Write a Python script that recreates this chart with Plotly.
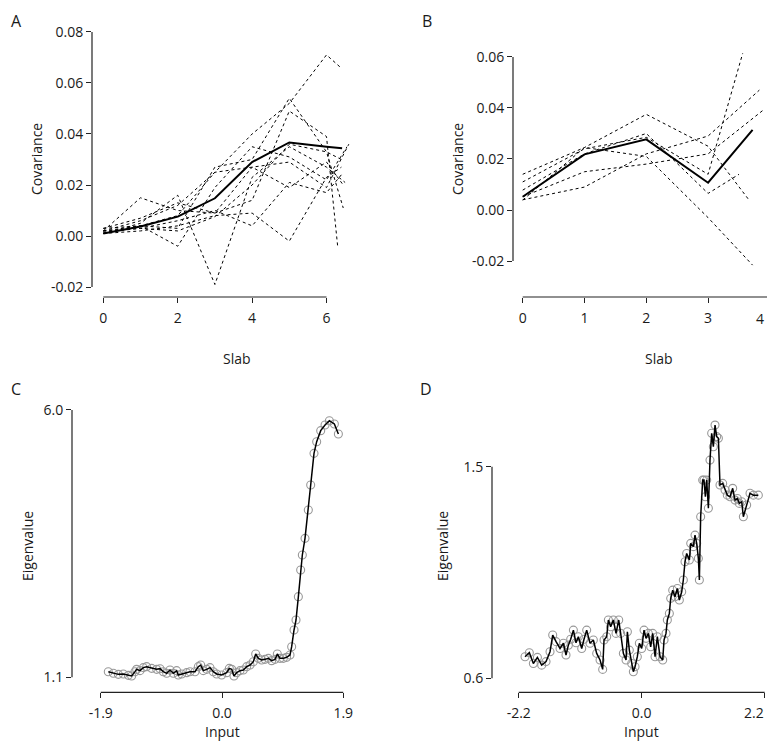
import plotly.graph_objects as go

# browser body margin offset (px) and figure size (kept inside the viewport)
OFF = 8
PAGE_W, PAGE_H = 775, 751
FW, FH = PAGE_W - OFF, PAGE_H - 2 * OFF
VIS_R = 766  # right-most page pixel that stays visible

# ---------------- Panel A data (covariance per slab) ----------------
a_slab = [0, 1, 2, 3, 4, 5, 6]
a_mean = [0.001, 0.0037, 0.0076, 0.0148, 0.029, 0.0367, 0.035]
a_mean_end_x = 6.42
a_mean_end_y = 0.0344
a_runs = [
    [0.002, 0.006, 0.012, 0.025, 0.040, 0.052, 0.071],
    [0.001, 0.004, 0.003, 0.027, 0.030, 0.054, 0.033],
    [0.002, 0.015, 0.010, 0.009, 0.014, 0.049, 0.039],
    [0.003, 0.004, -0.004, 0.019, 0.035, 0.031, 0.022],
    [0.001, 0.005, 0.016, -0.019, 0.023, 0.035, 0.027],
    [0.002, 0.003, 0.006, 0.010, 0.004, 0.021, 0.017],
    [0.003, 0.007, 0.013, 0.009, 0.027, 0.029, 0.019],
    [0.001, 0.002, 0.004, 0.008, 0.009, -0.002, 0.023],
    [0.002, 0.004, 0.008, 0.025, 0.027, 0.019, 0.029],
    [0.0015, 0.003, 0.002, 0.0076, 0.020, 0.036, 0.033],
]
a_run_end_x = [6.40, 6.45, 6.30, 6.55, 6.50, 6.40, 6.60, 6.40, 6.45, 6.40]
a_run_end_y = [0.0658, 0.011, -0.004, 0.035, 0.021, 0.024, 0.036, 0.027, 0.020, 0.030]

# ---------------- Panel B data ----------------
b_slab = [0, 1, 2, 3]
b_mean = [0.0052, 0.0218, 0.0277, 0.0107]
b_mean_end_x = 3.72
b_mean_end_y = 0.0314
b_runs = [
    [0.014, 0.0245, 0.0375, 0.025],
    [0.011, 0.024, 0.0285, 0.014],
    [0.0078, 0.022, 0.030, 0.0065],
    [0.004, 0.009, 0.022, 0.029],
    [0.0052, 0.015, 0.018, 0.022],
    [0.0039, 0.0245, 0.021, -0.003],
]
b_run_end_x = [3.66, 3.56, 3.50, 3.83, 3.91, 3.72]
b_run_end_y = [0.004, 0.0614, 0.014, 0.047, 0.0395, -0.0216]

# ---------------- Panel C data (eigenvalue vs input) ----------------
c_input = [-1.782, -1.703, -1.625, -1.547, -1.468, -1.416, -1.364, -1.338, -1.285, -1.233,
           -1.181, -1.103, -1.024, -0.972, -0.920, -0.867, -0.815, -0.763, -0.711, -0.685,
           -0.632, -0.554, -0.502, -0.423, -0.371, -0.334, -0.293, -0.240, -0.188, -0.136,
           -0.084, -0.005, 0.073, 0.115, 0.152, 0.188, 0.230, 0.282, 0.334, 0.387,
           0.439, 0.491, 0.528, 0.570, 0.622, 0.674, 0.726, 0.778, 0.831, 0.867,
           0.909, 0.961, 1.013, 1.066, 1.092, 1.129, 1.160, 1.197, 1.233, 1.259,
           1.301, 1.353, 1.390, 1.442, 1.484, 1.547, 1.615, 1.683, 1.761, 1.824]
c_eigen = [1.203, 1.173, 1.154, 1.161, 1.136, 1.124, 1.203, 1.246, 1.222, 1.277,
           1.295, 1.264, 1.246, 1.258, 1.203, 1.173, 1.234, 1.173, 1.222, 1.142,
           1.161, 1.185, 1.203, 1.203, 1.295, 1.325, 1.222, 1.246, 1.277, 1.203,
           1.161, 1.142, 1.185, 1.264, 1.246, 1.124, 1.185, 1.222, 1.234, 1.295,
           1.325, 1.386, 1.527, 1.447, 1.417, 1.429, 1.447, 1.405, 1.429, 1.527,
           1.447, 1.447, 1.466, 1.509, 1.661, 1.967, 2.150, 2.578, 3.067, 3.342,
           3.647, 4.167, 4.625, 5.205, 5.419, 5.621, 5.725, 5.804, 5.743, 5.560]

# ---------------- Panel D data ----------------
d_input = [-2.087, -2.010, -1.938, -1.866, -1.789, -1.711, -1.640, -1.592, -1.532, -1.461,
           -1.401, -1.354, -1.312, -1.270, -1.222, -1.175, -1.133, -1.073, -1.032, -0.984,
           -0.924, -0.865, -0.805, -0.745, -0.698, -0.674, -0.626, -0.596, -0.555, -0.507,
           -0.459, -0.411, -0.376, -0.328, -0.280, -0.256, -0.221, -0.179, -0.149, -0.119,
           -0.078, -0.042, 0.000, 0.042, 0.078, 0.119, 0.161, 0.197, 0.239, 0.280,
           0.328, 0.376, 0.400, 0.435, 0.459, 0.495, 0.519, 0.555, 0.596, 0.638,
           0.674, 0.716, 0.745, 0.775, 0.805, 0.853, 0.877, 0.924, 0.954, 0.984,
           1.014, 1.032, 1.055, 1.091, 1.115, 1.139, 1.163, 1.193, 1.222, 1.252,
           1.282, 1.312, 1.342, 1.372, 1.401, 1.449, 1.491, 1.532, 1.580, 1.628,
           1.670, 1.711, 1.747, 1.789, 1.819, 1.878, 1.938, 1.998, 2.087]
d_eigen = [0.692, 0.709, 0.663, 0.689, 0.656, 0.671, 0.713, 0.784, 0.756, 0.727,
           0.749, 0.699, 0.741, 0.766, 0.805, 0.751, 0.777, 0.727, 0.766, 0.805,
           0.749, 0.763, 0.706, 0.678, 0.638, 0.763, 0.777, 0.848, 0.819, 0.848,
           0.791, 0.848, 0.791, 0.706, 0.678, 0.798, 0.720, 0.663, 0.628, 0.649,
           0.692, 0.749, 0.727, 0.805, 0.770, 0.791, 0.734, 0.791, 0.692, 0.777,
           0.692, 0.678, 0.763, 0.791, 0.848, 0.876, 0.940, 0.975, 0.947, 0.982,
           0.933, 0.968, 1.018, 1.096, 1.131, 1.103, 1.174, 1.160, 1.209, 1.174,
           1.110, 1.018, 1.287, 1.443, 1.443, 1.372, 1.443, 1.323, 1.528, 1.642,
           1.585, 1.677, 1.628, 1.621, 1.422, 1.429, 1.401, 1.379, 1.372, 1.408,
           1.358, 1.365, 1.344, 1.351, 1.287, 1.337, 1.387, 1.379, 1.379]

# tick values / labels
a_yticks = [-0.02, 0.00, 0.02, 0.04, 0.06, 0.08]
a_xticks = [0, 2, 4, 6]
b_yticks = [-0.02, 0.00, 0.02, 0.04, 0.06]
b_xticks = [0, 1, 2, 3, 4]
c_yticks = [1.1, 6.0]
c_xticks = [-1.9, 0.0, 1.9]
d_yticks = [0.6, 1.5]
d_xticks = [-2.2, 0.0, 2.2]

FONT = "Open Sans"
DASH = "3px,3px"
INK = "#1a1a1a"
CHAR_W = 7.5  # approx. label width per character at 14px


def px_x(p):
    return (p - OFF) / FW


def px_y(p):
    return 1 - (p - OFF) / FH


fig = go.Figure()

# Panel A
for run, ex, ey in zip(a_runs, a_run_end_x, a_run_end_y):
    fig.add_trace(go.Scatter(x=a_slab + [ex], y=run + [ey], mode="lines",
                             line=dict(color="black", width=1, dash=DASH),
                             xaxis="x", yaxis="y", showlegend=False, hoverinfo="skip"))
fig.add_trace(go.Scatter(x=a_slab + [a_mean_end_x], y=a_mean + [a_mean_end_y], mode="lines",
                         line=dict(color="black", width=2), xaxis="x", yaxis="y",
                         showlegend=False, hoverinfo="skip"))
# Panel B
for run, ex, ey in zip(b_runs, b_run_end_x, b_run_end_y):
    fig.add_trace(go.Scatter(x=b_slab + [ex], y=run + [ey], mode="lines",
                             line=dict(color="black", width=1, dash=DASH),
                             xaxis="x2", yaxis="y2", showlegend=False, hoverinfo="skip"))
fig.add_trace(go.Scatter(x=b_slab + [b_mean_end_x], y=b_mean + [b_mean_end_y], mode="lines",
                         line=dict(color="black", width=2), xaxis="x2", yaxis="y2",
                         showlegend=False, hoverinfo="skip"))
# Panel C
fig.add_trace(go.Scatter(x=c_input, y=c_eigen, mode="markers",
                         marker=dict(symbol="circle-open", size=8, color="#999999",
                                     line=dict(width=1.1)),
                         xaxis="x3", yaxis="y3", showlegend=False, hoverinfo="skip"))
fig.add_trace(go.Scatter(x=c_input, y=c_eigen, mode="lines",
                         line=dict(color="black", width=1.5),
                         xaxis="x3", yaxis="y3", showlegend=False, hoverinfo="skip"))
# Panel D
fig.add_trace(go.Scatter(x=d_input, y=d_eigen, mode="markers",
                         marker=dict(symbol="circle-open", size=8, color="#999999",
                                     line=dict(width=1.1)),
                         xaxis="x4", yaxis="y4", showlegend=False, hoverinfo="skip"))
fig.add_trace(go.Scatter(x=d_input, y=d_eigen, mode="lines",
                         line=dict(color="black", width=1.5),
                         xaxis="x4", yaxis="y4", showlegend=False, hoverinfo="skip"))

tickfont = dict(family=FONT, size=14, color=INK)

# panel geometry (pixel boxes in the page), axis ranges, x-label centre line
panels = {
    "A": dict(xpx=(92, 382), ypx=(22, 297), xr=[-0.304, 7.492], yr=[-0.0239, 0.0839],
              xt=a_xticks, yt=a_yticks, xf="{:.0f}", yf="{:.2f}", n="", lab_y=318),
    "B": dict(xpx=(513, 775), ypx=(22, 297), xr=[-0.157, 4.083], yr=[-0.0341, 0.0737],
              xt=b_xticks, yt=b_yticks, xf="{:.0f}", yf="{:.2f}", n="2", lab_y=318),
    "C": dict(xpx=(72, 372), ypx=(400, 692.3), xr=[-2.351, 2.351], yr=[0.825, 6.183],
              xt=c_xticks, yt=c_yticks, xf="{:.1f}", yf="{:.1f}", n="3", lab_y=712),
    "D": dict(xpx=(492, 775), ypx=(400, 692.3), xr=[-2.678, 2.385], yr=[0.5405, 1.7837],
              xt=d_xticks, yt=d_yticks, xf="{:.1f}", yf="{:.1f}", n="4", lab_y=712),
}


def to_paper(v, rng, dom):
    return dom[0] + (v - rng[0]) / (rng[1] - rng[0]) * (dom[1] - dom[0])


layout_axes = {}
edge_labels = []
for key, p in panels.items():
    n = p["n"]
    xd = [px_x(p["xpx"][0]), min(1.0, px_x(p["xpx"][1]))]
    yd = [px_y(p["ypx"][1]), px_y(p["ypx"][0])]
    p["xd"], p["yd"] = xd, yd
    xtext = []
    for t in p["xt"]:
        lab = p["xf"].format(t)
        page_x = OFF + to_paper(t, p["xr"], xd) * FW
        if page_x + len(lab) * CHAR_W / 2 > VIS_R:
            xtext.append("")
            edge_labels.append((lab, p["lab_y"]))
        else:
            xtext.append(lab)
    common = dict(ticks="outside", ticklen=5, tickwidth=1, tickcolor="#222",
                  showline=False, showgrid=False, zeroline=False, tickfont=tickfont,
                  fixedrange=True, ticklabeloverflow="allow")
    layout_axes["xaxis" + n] = dict(domain=xd, range=p["xr"], tickvals=p["xt"],
                                    ticktext=xtext, anchor="y" + n,
                                    ticklabelstandoff=3, **common)
    layout_axes["yaxis" + n] = dict(domain=yd, range=p["yr"], tickvals=p["yt"],
                                    ticktext=[p["yf"].format(t) for t in p["yt"]],
                                    anchor="x" + n, ticklabelstandoff=0, **common)

fig.update_layout(width=FW, height=FH, margin=dict(l=0, r=0, t=0, b=0),
                  paper_bgcolor="white", plot_bgcolor="white", showlegend=False,
                  **layout_axes)

# tick labels that would fall past the visible right edge: right-aligned at the edge
for lab, ly in edge_labels:
    fig.add_annotation(text=lab, x=px_x(VIS_R), y=px_y(ly), xref="paper", yref="paper",
                       showarrow=False, font=tickfont, xanchor="right", yanchor="middle")

# R-style axis lines spanning first to last tick (paper coords via each axis scale)
for key, p in panels.items():
    xd, yd = p["xd"], p["yd"]
    fig.add_shape(type="line", xref="paper", yref="paper",
                  x0=to_paper(p["xt"][0], p["xr"], xd), x1=to_paper(p["xt"][-1], p["xr"], xd),
                  y0=yd[0], y1=yd[0], line=dict(color="#222", width=1.2))
    fig.add_shape(type="line", xref="paper", yref="paper", x0=xd[0], x1=xd[0],
                  y0=to_paper(p["yt"][0], p["yr"], yd), y1=to_paper(p["yt"][-1], p["yr"], yd),
                  line=dict(color="#222", width=1.2))

labfont = dict(family=FONT, size=14, color=INK)
anns = [
    ("Covariance", 36, 159, -90), ("Covariance", 457, 159, -90),
    ("Slab", 237, 358, 0), ("Slab", 659, 358, 0),
    ("Eigenvalue", 27, 546, -90), ("Eigenvalue", 442, 546, -90),
]
for txt, x, y, ang in anns:
    fig.add_annotation(text=txt, x=px_x(x), y=px_y(y), xref="paper", yref="paper",
                       showarrow=False, textangle=ang, font=labfont,
                       xanchor="center", yanchor="middle")
# bottom titles pinned to the lower edge of the figure
for txt, x in [("Input", 222), ("Input", 641.5)]:
    fig.add_annotation(text=txt, x=px_x(x), y=0.0, xref="paper", yref="paper",
                       showarrow=False, font=labfont, xanchor="center", yanchor="bottom")

# panel letters: top row pinned to the top edge, bottom row centred on its line
letters = [("A", 9, None), ("B", 427, None), ("C", 9, 389), ("D", 426, 389)]
for txt, x, y in letters:
    xp = px_x(x)
    fig.add_annotation(text=txt, x=max(0.0, xp), y=1.0 if y is None else px_y(y),
                       xref="paper", yref="paper", showarrow=False,
                       font=dict(family=FONT, size=16, color=INK),
                       xanchor="left" if xp <= 0.01 else "center",
                       yanchor="top" if y is None else "middle")

fig.write_html("out.html")
